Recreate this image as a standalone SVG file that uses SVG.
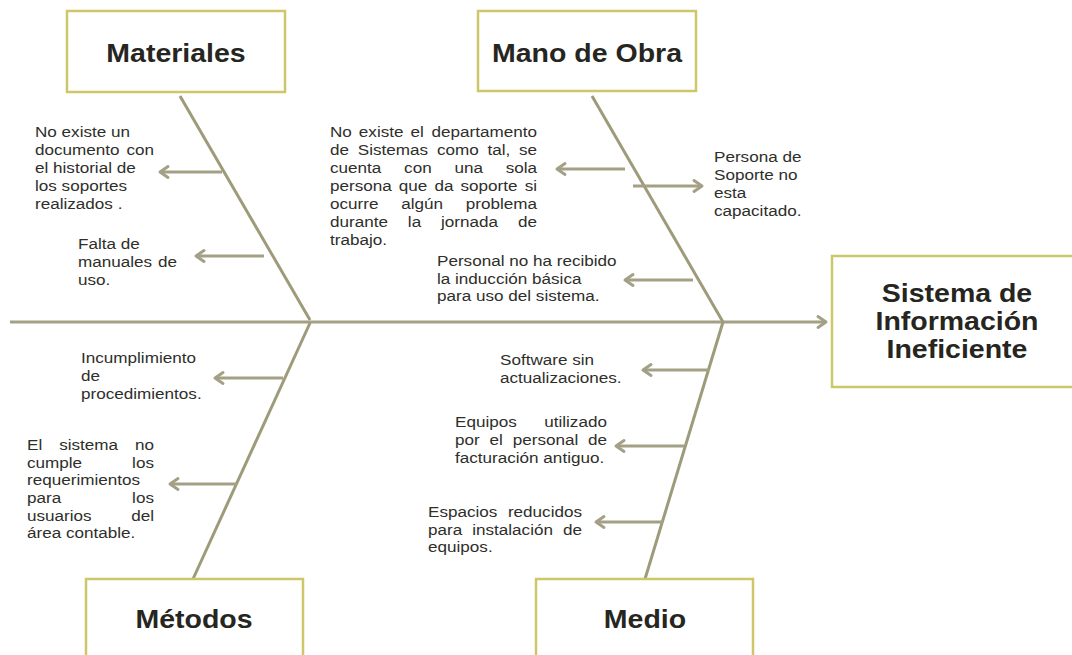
<svg xmlns="http://www.w3.org/2000/svg" width="1072" height="655" viewBox="0 0 1072 655">
<style>
.bg{fill:#ffffff}
.box{fill:#ffffff;stroke:#cdc76a;stroke-width:2.5}
.h{font-family:"Liberation Sans",Arial,sans-serif;font-weight:bold;font-size:25px;fill:#26261f;text-anchor:middle}
.t{font-family:"Liberation Sans",Arial,sans-serif;font-size:15px;fill:#2e2e2a}
.e{text-anchor:end}
.c{fill:none;stroke:#9e9b7b;stroke-width:3}
.a{fill:none;stroke:#a3a085;stroke-width:3;marker-end:url(#ah)}
</style>
<defs>
<marker id="ah" markerUnits="userSpaceOnUse" markerWidth="16" markerHeight="16" viewBox="-12 -8 16 16" refX="0" refY="0" orient="auto">
<path d="M-8,-5.5 L0,0 L-8,5.5" fill="none" stroke="#a3a085" stroke-width="3" stroke-linecap="round" stroke-linejoin="round"/>
</marker>
</defs>
<rect class="bg" x="0" y="0" width="1072" height="655"/>

<g id="connectors">
<path class="a" d="M10,322 H826"/>
<path class="c" d="M180,96 L310,320"/>
<path class="c" d="M310,323 L193,579"/>
<path class="c" d="M592,96 L723,322"/>
<path class="c" d="M723,322 L645,579"/>
<path class="a" d="M222,172 H160"/>
<path class="a" d="M264,256 H196"/>
<path class="a" d="M625,169 H557"/>
<path class="a" d="M633,186 H702"/>
<path class="a" d="M693,280 H625"/>
<path class="a" d="M283,378 H215"/>
<path class="a" d="M237,484 H170"/>
<path class="a" d="M709,370 H643"/>
<path class="a" d="M684,446 H616"/>
<path class="a" d="M663,522 H596"/>
</g>

<g id="materiales">
<rect class="box" x="67" y="11" width="218" height="81"/>
<text class="h" transform="matrix(1.14 0 0 1 176 0)" x="0" y="62">Materiales</text>
</g>
<g id="mano-de-obra">
<rect class="box" x="478" y="11" width="218" height="80"/>
<text class="h" transform="matrix(1.14 0 0 1 587 0)" x="0" y="62">Mano de Obra</text>
</g>
<g id="metodos">
<rect class="box" x="86" y="579" width="217" height="90"/>
<text class="h" transform="matrix(1.14 0 0 1 194 0)" x="0" y="628">Métodos</text>
</g>
<g id="medio">
<rect class="box" x="536" y="579" width="217" height="90"/>
<text class="h" transform="matrix(1.14 0 0 1 645 0)" x="0" y="628">Medio</text>
</g>
<g id="efecto">
<rect class="box" x="832" y="256" width="260" height="131"/>
<text class="h" transform="matrix(1.14 0 0 1 957 0)"><tspan x="0" y="302">Sistema de</tspan><tspan x="0" y="330">Información</tspan><tspan x="0" y="358">Ineficiente</tspan></text>
</g>

<g id="causa-mat-1">
<text class="t" transform="matrix(1.14 0 0 1 35 0)"><tspan x="0" y="137">No existe un</tspan><tspan x="0" y="155">documento</tspan><tspan class="e" x="104.4" y="155">con</tspan><tspan x="0" y="173">el historial de</tspan><tspan x="0" y="191">los soportes</tspan><tspan x="0" y="209">realizados .</tspan></text>
</g>
<g id="causa-mat-2">
<text class="t" transform="matrix(1.14 0 0 1 78 0)"><tspan x="0" y="249">Falta de</tspan><tspan x="0" y="267">manuales</tspan><tspan class="e" x="86.8" y="267">de</tspan><tspan x="0" y="285">uso.</tspan></text>
</g>
<g id="causa-mo-1">
<text class="t" transform="matrix(1.14 0 0 1 330 0)"><tspan x="0" y="137">No</tspan><tspan x="25.3" y="137">existe</tspan><tspan x="70.6" y="137">el</tspan><tspan class="e" x="181.6" y="137">departamento</tspan><tspan x="0" y="155">de</tspan><tspan x="24.4" y="155">Sistemas</tspan><tspan x="93.8" y="155">como</tspan><tspan x="138.2" y="155">tal,</tspan><tspan class="e" x="181.6" y="155">se</tspan><tspan x="0" y="173">cuenta</tspan><tspan x="65" y="173">con</tspan><tspan x="109.2" y="173">una</tspan><tspan class="e" x="181.6" y="173">sola</tspan><tspan x="0" y="191">persona</tspan><tspan x="60.4" y="191">que</tspan><tspan x="91.6" y="191">da</tspan><tspan x="114.5" y="191">soporte</tspan><tspan class="e" x="181.6" y="191">si</tspan><tspan x="0" y="209">ocurre</tspan><tspan x="62.5" y="209">algún</tspan><tspan class="e" x="181.6" y="209">problema</tspan><tspan x="0" y="227">durante</tspan><tspan x="68.3" y="227">la</tspan><tspan x="97.4" y="227">jornada</tspan><tspan class="e" x="181.6" y="227">de</tspan><tspan x="0" y="245">trabajo.</tspan></text>
</g>
<g id="causa-mo-2">
<text class="t" transform="matrix(1.14 0 0 1 714 0)"><tspan x="0" y="162">Persona de</tspan><tspan x="0" y="180">Soporte no</tspan><tspan x="0" y="198">esta</tspan><tspan x="0" y="216">capacitado.</tspan></text>
</g>
<g id="causa-mo-3">
<text class="t" transform="matrix(1.14 0 0 1 437 0)"><tspan x="0" y="266">Personal no ha recibido</tspan><tspan x="0" y="284">la inducción básica</tspan><tspan x="0" y="301">para uso del sistema.</tspan></text>
</g>
<g id="causa-met-1">
<text class="t" transform="matrix(1.14 0 0 1 81 0)"><tspan x="0" y="363">Incumplimiento</tspan><tspan x="0" y="381">de</tspan><tspan x="0" y="399">procedimientos.</tspan></text>
</g>
<g id="causa-met-2">
<text class="t" transform="matrix(1.14 0 0 1 27 0)"><tspan x="0" y="450">El</tspan><tspan x="28.2" y="450">sistema</tspan><tspan class="e" x="111.4" y="450">no</tspan><tspan x="0" y="468">cumple</tspan><tspan class="e" x="111.4" y="468">los</tspan><tspan x="0" y="485">requerimientos</tspan><tspan x="0" y="503">para</tspan><tspan class="e" x="111.4" y="503">los</tspan><tspan x="0" y="521">usuarios</tspan><tspan class="e" x="111.4" y="521">del</tspan><tspan x="0" y="538">área contable.</tspan></text>
</g>
<g id="causa-med-1">
<text class="t" transform="matrix(1.14 0 0 1 500 0)"><tspan x="0" y="365">Software sin</tspan><tspan x="0" y="383">actualizaciones.</tspan></text>
</g>
<g id="causa-med-2">
<text class="t" transform="matrix(1.14 0 0 1 455 0)"><tspan x="0" y="427">Equipos</tspan><tspan class="e" x="133.3" y="427">utilizado</tspan><tspan x="0" y="445">por</tspan><tspan x="30.3" y="445">el</tspan><tspan x="50.6" y="445">personal</tspan><tspan class="e" x="133.3" y="445">de</tspan><tspan x="0" y="463">facturación antiguo.</tspan></text>
</g>
<g id="causa-med-3">
<text class="t" transform="matrix(1.14 0 0 1 428 0)"><tspan x="0" y="517">Espacios</tspan><tspan class="e" x="135.1" y="517">reducidos</tspan><tspan x="0" y="535">para</tspan><tspan x="38.75" y="535">instalación</tspan><tspan class="e" x="135.1" y="535">de</tspan><tspan x="0" y="552">equipos.</tspan></text>
</g>
</svg>
